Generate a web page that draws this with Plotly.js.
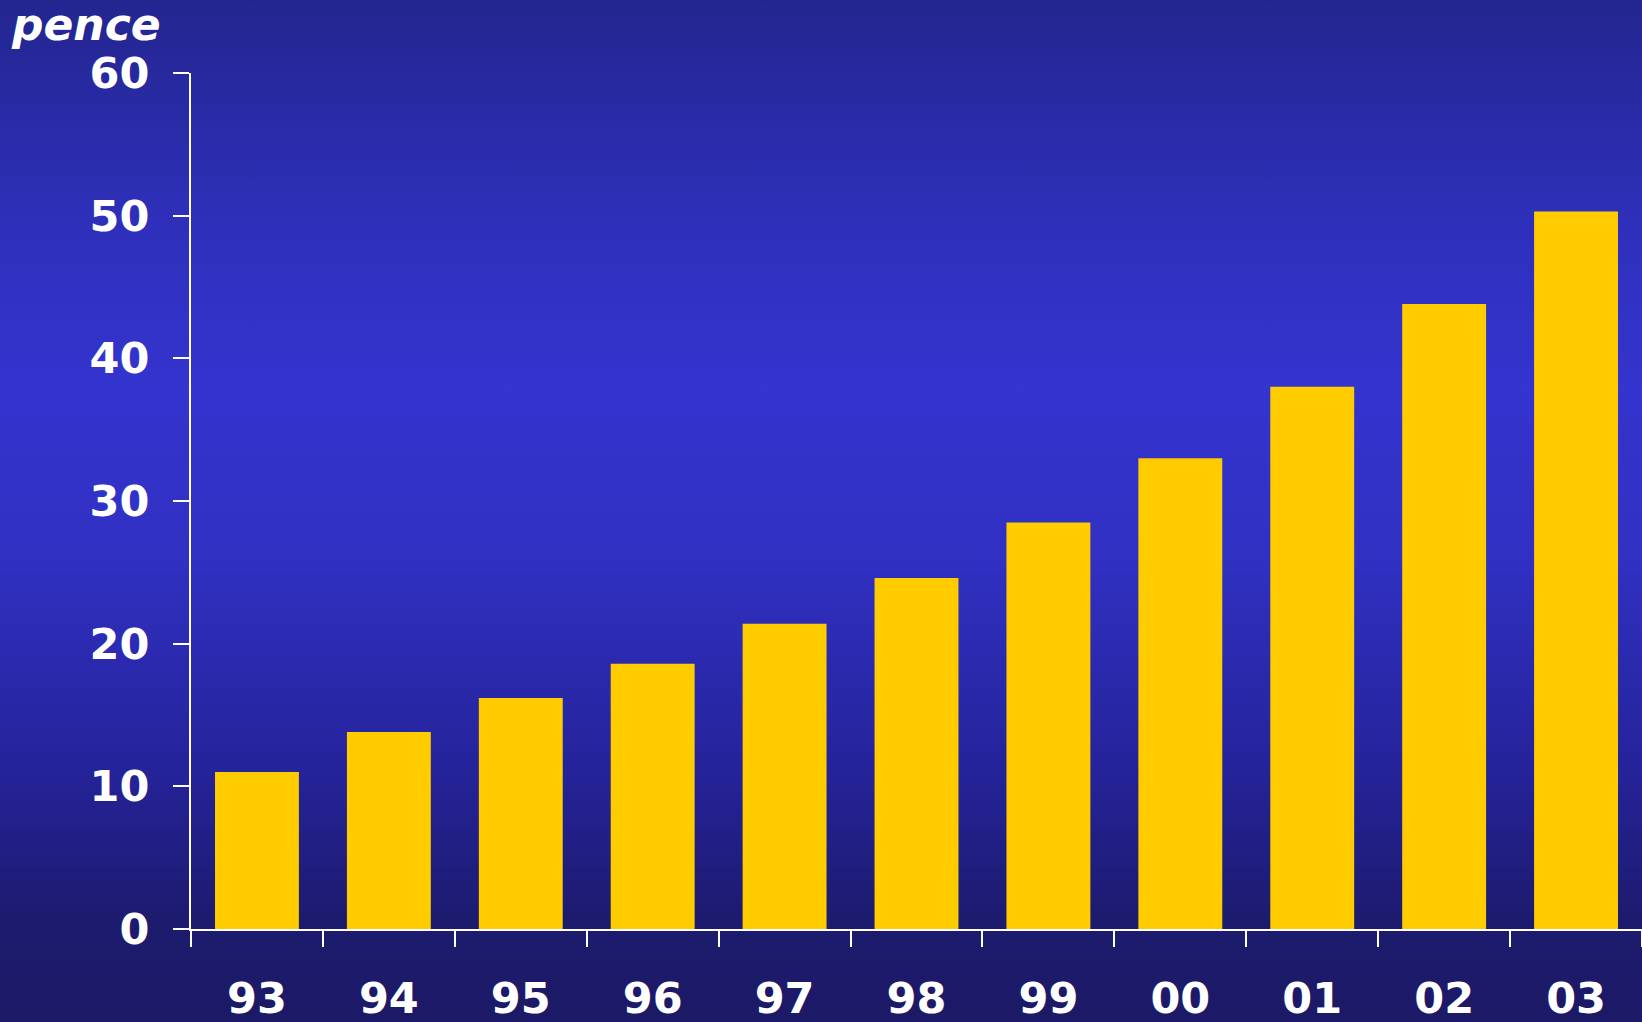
<!DOCTYPE html>
<html>
<head>
<meta charset="utf-8">
<script src="https://cdn.plot.ly/plotly-3.0.1.min.js"></script>
<style>
  html, body { margin: 0; padding: 0; }
  body {
    width: 1642px; height: 1022px; overflow: hidden;
    background: linear-gradient(to bottom, #23258f 0%, #2e30bb 22%, #3434cf 38%, #3030c2 55%, #25239a 75%, #1d1b6e 90%, #1c1966 100%);
  }
  #chart { width: 1642px; height: 1022px; }
</style>
</head>
<body>
<div id="chart"></div>
<script>
const years = ["93", "94", "95", "96", "97", "98", "99", "00", "01", "02", "03"];
const pence = [11.0, 13.8, 16.2, 18.6, 21.4, 24.6, 28.5, 33.0, 38.0, 43.8, 50.3];
const yTicks = [0, 10, 20, 30, 40, 50, 60];
const unitLabel = "pence";

const fontFam = "DejaVu Sans, Verdana, sans-serif";

const trace = {
  type: "bar",
  x: years,
  y: pence,
  marker: { color: "#ffcc00", line: { width: 0 } },
  hoverinfo: "x+y"
};

const layout = {
  width: 1642,
  height: 1022,
  margin: { l: 191, r: 0, t: 73, b: 93, pad: 0 },
  paper_bgcolor: "rgba(0,0,0,0)",
  plot_bgcolor: "rgba(0,0,0,0)",
  bargap: 0.364,
  showlegend: false,
  font: { family: fontFam, color: "#ffffff" },
  xaxis: {
    type: "category",
    showgrid: false,
    zeroline: false,
    showline: true,
    linecolor: "#ffffff",
    linewidth: 2,
    ticks: "outside",
    tickson: "boundaries",
    ticklen: 16,
    tickwidth: 2,
    tickcolor: "#ffffff",
    ticklabelstandoff: 30,
    tickfont: { family: fontFam, size: 43, color: "#ffffff", weight: "bold" }
  },
  yaxis: {
    range: [0, 60],
    tickvals: yTicks,
    ticktext: yTicks.map(String),
    showgrid: false,
    zeroline: false,
    showline: true,
    linecolor: "#ffffff",
    linewidth: 2,
    ticks: "outside",
    ticklen: 16,
    tickwidth: 2,
    tickcolor: "#ffffff",
    ticklabelstandoff: 15,
    tickfont: { family: fontFam, size: 43, color: "#ffffff", weight: "bold" }
  },
  annotations: [{
    text: "<b><i>" + unitLabel + "</i></b>",
    xref: "paper", yref: "paper",
    x: -191 / 1451, y: 1 + 73 / 856,
    xanchor: "left", yanchor: "top",
    xshift: 9, yshift: 3,
    showarrow: false,
    font: { family: fontFam, size: 44, color: "#ffffff" }
  }]
};

Plotly.newPlot("chart", [trace], layout, { displayModeBar: false, responsive: false });
</script>
</body>
</html>
